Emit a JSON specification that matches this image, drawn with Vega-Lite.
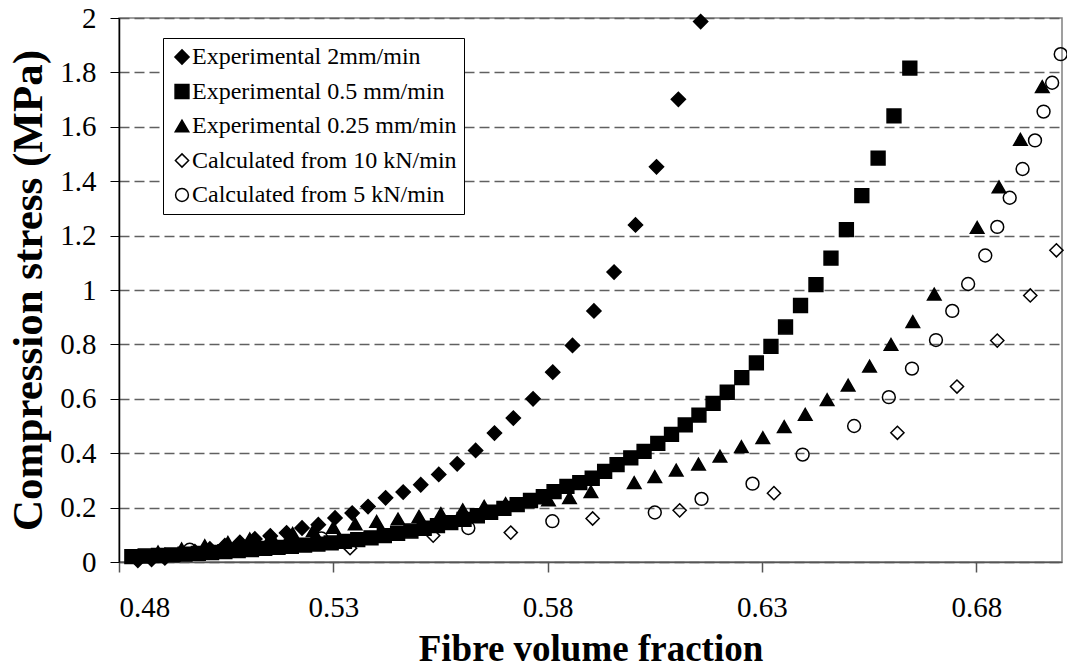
{
  "$schema": "https://vega.github.io/schema/vega-lite/v6.json",
  "width": 943,
  "height": 544,
  "autosize": {"type": "none"},
  "padding": {"left": 119, "top": 18, "right": 5, "bottom": 106},
  "background": "white",
  "config": {
    "font": "Liberation Serif",
    "view": {"stroke": "#808080", "strokeWidth": 1.5},
    "legend": {
      "orient": "none",
      "legendX": 44,
      "legendY": 20,
      "labelFont": "Liberation Serif",
      "labelFontSize": 24,
      "labelColor": "black",
      "labelLimit": 400,
      "labelOffset": -2,
      "strokeColor": "black",
      "fillColor": "white",
      "padding": 7,
      "rowPadding": 10.5,
      "symbolStrokeWidth": 1.5
    }
  },
  "datasets": {
    "pts": [
      {"s": "Calculated from 10 kN/min", "x": 0.5339, "y": 0.051},
      {"s": "Calculated from 10 kN/min", "x": 0.5533, "y": 0.097},
      {"s": "Calculated from 10 kN/min", "x": 0.5714, "y": 0.108},
      {"s": "Calculated from 10 kN/min", "x": 0.5905, "y": 0.160},
      {"s": "Calculated from 10 kN/min", "x": 0.6108, "y": 0.190},
      {"s": "Calculated from 10 kN/min", "x": 0.6328, "y": 0.253},
      {"s": "Calculated from 10 kN/min", "x": 0.6616, "y": 0.475},
      {"s": "Calculated from 10 kN/min", "x": 0.6755, "y": 0.645},
      {"s": "Calculated from 10 kN/min", "x": 0.6849, "y": 0.814},
      {"s": "Calculated from 10 kN/min", "x": 0.6926, "y": 0.980},
      {"s": "Calculated from 10 kN/min", "x": 0.6987, "y": 1.146},

      {"s": "Calculated from 5 kN/min", "x": 0.4965, "y": 0.045},
      {"s": "Calculated from 5 kN/min", "x": 0.5272, "y": 0.087},
      {"s": "Calculated from 5 kN/min", "x": 0.5615, "y": 0.125},
      {"s": "Calculated from 5 kN/min", "x": 0.5811, "y": 0.150},
      {"s": "Calculated from 5 kN/min", "x": 0.6050, "y": 0.182},
      {"s": "Calculated from 5 kN/min", "x": 0.6159, "y": 0.232},
      {"s": "Calculated from 5 kN/min", "x": 0.6278, "y": 0.288},
      {"s": "Calculated from 5 kN/min", "x": 0.6395, "y": 0.395},
      {"s": "Calculated from 5 kN/min", "x": 0.6515, "y": 0.500},
      {"s": "Calculated from 5 kN/min", "x": 0.6596, "y": 0.606},
      {"s": "Calculated from 5 kN/min", "x": 0.6650, "y": 0.711},
      {"s": "Calculated from 5 kN/min", "x": 0.6706, "y": 0.816},
      {"s": "Calculated from 5 kN/min", "x": 0.6744, "y": 0.923},
      {"s": "Calculated from 5 kN/min", "x": 0.6781, "y": 1.022},
      {"s": "Calculated from 5 kN/min", "x": 0.6821, "y": 1.127},
      {"s": "Calculated from 5 kN/min", "x": 0.6849, "y": 1.232},
      {"s": "Calculated from 5 kN/min", "x": 0.6878, "y": 1.339},
      {"s": "Calculated from 5 kN/min", "x": 0.6908, "y": 1.445},
      {"s": "Calculated from 5 kN/min", "x": 0.6937, "y": 1.550},
      {"s": "Calculated from 5 kN/min", "x": 0.6957, "y": 1.656},
      {"s": "Calculated from 5 kN/min", "x": 0.6977, "y": 1.762},
      {"s": "Calculated from 5 kN/min", "x": 0.6997, "y": 1.867},

      {"s": "Experimental 2mm/min", "x": 0.4844, "y": 0.006},
      {"s": "Experimental 2mm/min", "x": 0.4876, "y": 0.010},
      {"s": "Experimental 2mm/min", "x": 0.4907, "y": 0.015},
      {"s": "Experimental 2mm/min", "x": 0.4942, "y": 0.028},
      {"s": "Experimental 2mm/min", "x": 0.4977, "y": 0.038},
      {"s": "Experimental 2mm/min", "x": 0.5012, "y": 0.048},
      {"s": "Experimental 2mm/min", "x": 0.5047, "y": 0.060},
      {"s": "Experimental 2mm/min", "x": 0.5082, "y": 0.072},
      {"s": "Experimental 2mm/min", "x": 0.5117, "y": 0.085},
      {"s": "Experimental 2mm/min", "x": 0.5153, "y": 0.096},
      {"s": "Experimental 2mm/min", "x": 0.5191, "y": 0.107},
      {"s": "Experimental 2mm/min", "x": 0.5227, "y": 0.125},
      {"s": "Experimental 2mm/min", "x": 0.5265, "y": 0.137},
      {"s": "Experimental 2mm/min", "x": 0.5304, "y": 0.162},
      {"s": "Experimental 2mm/min", "x": 0.5344, "y": 0.180},
      {"s": "Experimental 2mm/min", "x": 0.5381, "y": 0.204},
      {"s": "Experimental 2mm/min", "x": 0.5422, "y": 0.236},
      {"s": "Experimental 2mm/min", "x": 0.5463, "y": 0.257},
      {"s": "Experimental 2mm/min", "x": 0.5504, "y": 0.284},
      {"s": "Experimental 2mm/min", "x": 0.5546, "y": 0.322},
      {"s": "Experimental 2mm/min", "x": 0.5589, "y": 0.361},
      {"s": "Experimental 2mm/min", "x": 0.5632, "y": 0.410},
      {"s": "Experimental 2mm/min", "x": 0.5676, "y": 0.474},
      {"s": "Experimental 2mm/min", "x": 0.5720, "y": 0.529},
      {"s": "Experimental 2mm/min", "x": 0.5766, "y": 0.600},
      {"s": "Experimental 2mm/min", "x": 0.5812, "y": 0.698},
      {"s": "Experimental 2mm/min", "x": 0.5858, "y": 0.796},
      {"s": "Experimental 2mm/min", "x": 0.5908, "y": 0.923},
      {"s": "Experimental 2mm/min", "x": 0.5955, "y": 1.066},
      {"s": "Experimental 2mm/min", "x": 0.6005, "y": 1.239},
      {"s": "Experimental 2mm/min", "x": 0.6054, "y": 1.453},
      {"s": "Experimental 2mm/min", "x": 0.6105, "y": 1.701},
      {"s": "Experimental 2mm/min", "x": 0.6157, "y": 1.987},

      {"s": "Experimental 0.25 mm/min", "x": 0.4891, "y": 0.037},
      {"s": "Experimental 0.25 mm/min", "x": 0.4946, "y": 0.048},
      {"s": "Experimental 0.25 mm/min", "x": 0.5000, "y": 0.060},
      {"s": "Experimental 0.25 mm/min", "x": 0.5054, "y": 0.072},
      {"s": "Experimental 0.25 mm/min", "x": 0.5105, "y": 0.085},
      {"s": "Experimental 0.25 mm/min", "x": 0.5155, "y": 0.095},
      {"s": "Experimental 0.25 mm/min", "x": 0.5205, "y": 0.105},
      {"s": "Experimental 0.25 mm/min", "x": 0.5253, "y": 0.115},
      {"s": "Experimental 0.25 mm/min", "x": 0.5300, "y": 0.127},
      {"s": "Experimental 0.25 mm/min", "x": 0.5351, "y": 0.140},
      {"s": "Experimental 0.25 mm/min", "x": 0.5401, "y": 0.149},
      {"s": "Experimental 0.25 mm/min", "x": 0.5451, "y": 0.158},
      {"s": "Experimental 0.25 mm/min", "x": 0.5500, "y": 0.168},
      {"s": "Experimental 0.25 mm/min", "x": 0.5551, "y": 0.178},
      {"s": "Experimental 0.25 mm/min", "x": 0.5602, "y": 0.192},
      {"s": "Experimental 0.25 mm/min", "x": 0.5652, "y": 0.205},
      {"s": "Experimental 0.25 mm/min", "x": 0.5702, "y": 0.215},
      {"s": "Experimental 0.25 mm/min", "x": 0.5752, "y": 0.222},
      {"s": "Experimental 0.25 mm/min", "x": 0.5802, "y": 0.228},
      {"s": "Experimental 0.25 mm/min", "x": 0.5851, "y": 0.237},
      {"s": "Experimental 0.25 mm/min", "x": 0.5901, "y": 0.259},
      {"s": "Experimental 0.25 mm/min", "x": 0.6002, "y": 0.292},
      {"s": "Experimental 0.25 mm/min", "x": 0.6050, "y": 0.314},
      {"s": "Experimental 0.25 mm/min", "x": 0.6100, "y": 0.338},
      {"s": "Experimental 0.25 mm/min", "x": 0.6152, "y": 0.360},
      {"s": "Experimental 0.25 mm/min", "x": 0.6202, "y": 0.389},
      {"s": "Experimental 0.25 mm/min", "x": 0.6252, "y": 0.424},
      {"s": "Experimental 0.25 mm/min", "x": 0.6302, "y": 0.457},
      {"s": "Experimental 0.25 mm/min", "x": 0.6352, "y": 0.498},
      {"s": "Experimental 0.25 mm/min", "x": 0.6401, "y": 0.543},
      {"s": "Experimental 0.25 mm/min", "x": 0.6452, "y": 0.597},
      {"s": "Experimental 0.25 mm/min", "x": 0.6501, "y": 0.650},
      {"s": "Experimental 0.25 mm/min", "x": 0.6551, "y": 0.720},
      {"s": "Experimental 0.25 mm/min", "x": 0.6601, "y": 0.800},
      {"s": "Experimental 0.25 mm/min", "x": 0.6652, "y": 0.884},
      {"s": "Experimental 0.25 mm/min", "x": 0.6702, "y": 0.985},
      {"s": "Experimental 0.25 mm/min", "x": 0.6802, "y": 1.230},
      {"s": "Experimental 0.25 mm/min", "x": 0.6853, "y": 1.379},
      {"s": "Experimental 0.25 mm/min", "x": 0.6903, "y": 1.554},
      {"s": "Experimental 0.25 mm/min", "x": 0.6954, "y": 1.748},

      {"s": "Experimental 0.5 mm/min", "x": 0.4830, "y": 0.020},
      {"s": "Experimental 0.5 mm/min", "x": 0.4861, "y": 0.022},
      {"s": "Experimental 0.5 mm/min", "x": 0.4892, "y": 0.024},
      {"s": "Experimental 0.5 mm/min", "x": 0.4923, "y": 0.026},
      {"s": "Experimental 0.5 mm/min", "x": 0.4954, "y": 0.029},
      {"s": "Experimental 0.5 mm/min", "x": 0.4985, "y": 0.032},
      {"s": "Experimental 0.5 mm/min", "x": 0.5016, "y": 0.035},
      {"s": "Experimental 0.5 mm/min", "x": 0.5047, "y": 0.038},
      {"s": "Experimental 0.5 mm/min", "x": 0.5078, "y": 0.042},
      {"s": "Experimental 0.5 mm/min", "x": 0.5109, "y": 0.046},
      {"s": "Experimental 0.5 mm/min", "x": 0.5140, "y": 0.050},
      {"s": "Experimental 0.5 mm/min", "x": 0.5171, "y": 0.054},
      {"s": "Experimental 0.5 mm/min", "x": 0.5202, "y": 0.058},
      {"s": "Experimental 0.5 mm/min", "x": 0.5233, "y": 0.062},
      {"s": "Experimental 0.5 mm/min", "x": 0.5264, "y": 0.066},
      {"s": "Experimental 0.5 mm/min", "x": 0.5295, "y": 0.070},
      {"s": "Experimental 0.5 mm/min", "x": 0.5326, "y": 0.076},
      {"s": "Experimental 0.5 mm/min", "x": 0.5357, "y": 0.082},
      {"s": "Experimental 0.5 mm/min", "x": 0.5388, "y": 0.089},
      {"s": "Experimental 0.5 mm/min", "x": 0.5419, "y": 0.097},
      {"s": "Experimental 0.5 mm/min", "x": 0.5450, "y": 0.105},
      {"s": "Experimental 0.5 mm/min", "x": 0.5481, "y": 0.114},
      {"s": "Experimental 0.5 mm/min", "x": 0.5512, "y": 0.124},
      {"s": "Experimental 0.5 mm/min", "x": 0.5543, "y": 0.134},
      {"s": "Experimental 0.5 mm/min", "x": 0.5574, "y": 0.145},
      {"s": "Experimental 0.5 mm/min", "x": 0.5605, "y": 0.157},
      {"s": "Experimental 0.5 mm/min", "x": 0.5636, "y": 0.170},
      {"s": "Experimental 0.5 mm/min", "x": 0.5667, "y": 0.183},
      {"s": "Experimental 0.5 mm/min", "x": 0.5698, "y": 0.197},
      {"s": "Experimental 0.5 mm/min", "x": 0.5729, "y": 0.211},
      {"s": "Experimental 0.5 mm/min", "x": 0.5760, "y": 0.226},
      {"s": "Experimental 0.5 mm/min", "x": 0.5790, "y": 0.240},
      {"s": "Experimental 0.5 mm/min", "x": 0.5815, "y": 0.259},
      {"s": "Experimental 0.5 mm/min", "x": 0.5845, "y": 0.278},
      {"s": "Experimental 0.5 mm/min", "x": 0.5875, "y": 0.292},
      {"s": "Experimental 0.5 mm/min", "x": 0.5904, "y": 0.308},
      {"s": "Experimental 0.5 mm/min", "x": 0.5933, "y": 0.333},
      {"s": "Experimental 0.5 mm/min", "x": 0.5962, "y": 0.358},
      {"s": "Experimental 0.5 mm/min", "x": 0.5994, "y": 0.383},
      {"s": "Experimental 0.5 mm/min", "x": 0.6025, "y": 0.407},
      {"s": "Experimental 0.5 mm/min", "x": 0.6057, "y": 0.436},
      {"s": "Experimental 0.5 mm/min", "x": 0.6089, "y": 0.469},
      {"s": "Experimental 0.5 mm/min", "x": 0.6121, "y": 0.504},
      {"s": "Experimental 0.5 mm/min", "x": 0.6153, "y": 0.540},
      {"s": "Experimental 0.5 mm/min", "x": 0.6186, "y": 0.583},
      {"s": "Experimental 0.5 mm/min", "x": 0.6219, "y": 0.624},
      {"s": "Experimental 0.5 mm/min", "x": 0.6253, "y": 0.678},
      {"s": "Experimental 0.5 mm/min", "x": 0.6287, "y": 0.732},
      {"s": "Experimental 0.5 mm/min", "x": 0.6321, "y": 0.793},
      {"s": "Experimental 0.5 mm/min", "x": 0.6355, "y": 0.864},
      {"s": "Experimental 0.5 mm/min", "x": 0.6390, "y": 0.943},
      {"s": "Experimental 0.5 mm/min", "x": 0.6426, "y": 1.020},
      {"s": "Experimental 0.5 mm/min", "x": 0.6461, "y": 1.117},
      {"s": "Experimental 0.5 mm/min", "x": 0.6497, "y": 1.222},
      {"s": "Experimental 0.5 mm/min", "x": 0.6533, "y": 1.347},
      {"s": "Experimental 0.5 mm/min", "x": 0.6571, "y": 1.485},
      {"s": "Experimental 0.5 mm/min", "x": 0.6608, "y": 1.640},
      {"s": "Experimental 0.5 mm/min", "x": 0.6645, "y": 1.816}
    ]
  },
  "data": {"name": "pts"},
  "mark": {"type": "point", "filled": true, "strokeWidth": 1.5, "opacity": 1},
  "encoding": {
    "x": {
      "field": "x", "type": "quantitative",
      "scale": {"domain": [0.48, 0.70], "nice": false, "zero": false},
      "axis": {
        "values": [0.48, 0.53, 0.58, 0.63, 0.68], "format": ".2f",
        "title": "Fibre volume fraction", "grid": false,
        "tickSize": 10, "tickColor": "#555555", "tickWidth": 1.5,
        "domainColor": "#555555", "domainWidth": 1.5,
        "labelFontSize": 29, "labelColor": "black", "labelPadding": 21,
        "titleFontSize": 37, "titleFontWeight": "bold", "titleColor": "black", "titlePadding": 9
      }
    },
    "y": {
      "field": "y", "type": "quantitative",
      "scale": {"domain": [0, 2], "nice": false},
      "axis": {
        "values": [0, 0.2, 0.4, 0.6, 0.8, 1, 1.2, 1.4, 1.6, 1.8, 2], "format": ".1~f",
        "title": "Compression stress (MPa)", "grid": true,
        "gridDash": [10, 5], "gridColor": "#606060", "gridWidth": 1.3,
        "tickSize": 9, "tickColor": "black", "tickWidth": 1,
        "domainColor": "black", "domainWidth": 1.5,
        "labelFontSize": 29, "labelColor": "black", "labelPadding": 14,
        "titleFontSize": 43, "titleFontWeight": "bold", "titleColor": "black", "titlePadding": 9
      }
    },
    "shape": {
      "field": "s", "type": "nominal",
      "scale": {
        "domain": ["Experimental 2mm/min", "Experimental 0.5 mm/min", "Experimental 0.25 mm/min", "Calculated from 10 kN/min", "Calculated from 5 kN/min"],
        "range": ["diamond", "square", "triangle-up", "diamond", "circle"]
      },
      "legend": {"title": null}
    },
    "fill": {
      "field": "s", "type": "nominal",
      "scale": {
        "domain": ["Experimental 2mm/min", "Experimental 0.5 mm/min", "Experimental 0.25 mm/min", "Calculated from 10 kN/min", "Calculated from 5 kN/min"],
        "range": ["black", "black", "black", "transparent", "transparent"]
      },
      "legend": {"title": null}
    },
    "stroke": {
      "field": "s", "type": "nominal",
      "scale": {
        "domain": ["Experimental 2mm/min", "Experimental 0.5 mm/min", "Experimental 0.25 mm/min", "Calculated from 10 kN/min", "Calculated from 5 kN/min"],
        "range": ["black", "black", "black", "black", "black"]
      },
      "legend": {"title": null}
    },
    "size": {
      "field": "s", "type": "nominal",
      "scale": {
        "domain": ["Experimental 2mm/min", "Experimental 0.5 mm/min", "Experimental 0.25 mm/min", "Calculated from 10 kN/min", "Calculated from 5 kN/min"],
        "range": [200, 165, 165, 90, 120]
      },
      "legend": {"title": null}
    }
  }
}
